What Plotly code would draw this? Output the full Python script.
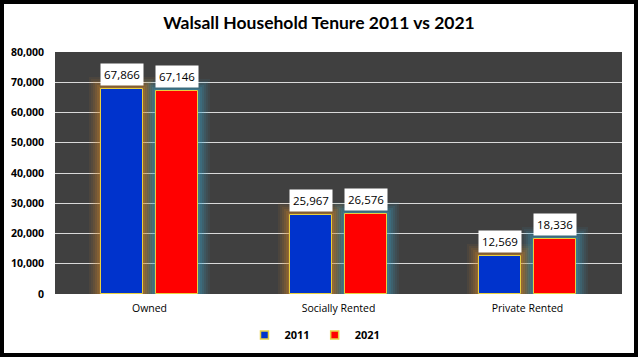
import plotly.graph_objects as go

categories = ["Owned", "Socially Rented", "Private Rented"]
values_2011 = [67866, 25967, 12569]
values_2021 = [67146, 26576, 18336]
series_names = ["2011", "2021"]
y_ticks = [0, 10000, 20000, 30000, 40000, 50000, 60000, 70000, 80000]

BLUE = "#0033cc"
RED = "#ff0000"
BAR_W = 0.222
OFF_B = -0.254
OFF_R = 0.032

fig = go.Figure()

# soft glow layers behind the bars
px_unit = 1 / 189.0
py_unit = 80000 / 242.0
for k, a in [(12, 0.07), (10, 0.08), (8, 0.1), (6, 0.12), (4, 0.15), (2, 0.2)]:
    fig.add_trace(go.Bar(
        x=categories, y=[v + k * py_unit for v in values_2011],
        width=BAR_W + 2 * k * px_unit, offset=OFF_B - k * px_unit,
        marker=dict(color=f"rgba(220,140,40,{a})", line=dict(width=0)),
        showlegend=False, hoverinfo="skip"))
    fig.add_trace(go.Bar(
        x=categories, y=[v + k * py_unit for v in values_2021],
        width=BAR_W + 2 * k * px_unit, offset=OFF_R - k * px_unit,
        marker=dict(color=f"rgba(60,170,210,{a})", line=dict(width=0)),
        showlegend=False, hoverinfo="skip"))

fig.add_trace(go.Bar(
    x=categories, y=values_2011, name=series_names[0], showlegend=False,
    width=BAR_W, offset=OFF_B,
    marker=dict(color=BLUE, line=dict(color="#e8d040", width=1))))
fig.add_trace(go.Bar(
    x=categories, y=values_2021, name=series_names[1], showlegend=False,
    width=BAR_W, offset=OFF_R,
    marker=dict(color=RED, line=dict(color="#e8d040", width=1))))

# legend entries
for name, col in [(series_names[0], BLUE), (series_names[1], RED)]:
    fig.add_trace(go.Scatter(
        x=[None], y=[None], mode="markers", name=name,
        marker=dict(symbol="square", size=8, color=col,
                    line=dict(color="#e8d040", width=1.5))))

annotations = []
for i, c in enumerate(categories):
    for vals, off in [(values_2011, OFF_B), (values_2021, OFF_R)]:
        annotations.append(dict(
            x=i + off + BAR_W / 2, y=vals[i], xref="x", yref="y",
            text=f"{vals[i]:,}", showarrow=False, yanchor="bottom",
            yshift=3, bgcolor="white", borderpad=3,
            font=dict(family="Open Sans, Arial", size=11.5, color="black")))

fig.update_layout(
    width=638, height=357,
    margin=dict(l=55, r=16, t=52, b=63, autoexpand=False),
    paper_bgcolor="white", plot_bgcolor="#404040",
    barmode="overlay", bargap=0,
    title=dict(text="<b>Walsall Household Tenure 2011 vs 2021</b>",
               x=0.5, xanchor="center", y=0.935, yanchor="middle",
               font=dict(family="Lato, Open Sans, Arial", size=17.5, color="black")),
    xaxis=dict(type="category", range=[-0.5, 2.5], showgrid=False,
               ticks="", ticklabelstandoff=6, automargin=False,
               tickfont=dict(family="Open Sans, Arial", size=10.5, color="black")),
    yaxis=dict(range=[0, 80000], tickvals=y_ticks,
               ticktext=[f"{t:,}" for t in y_ticks],
               gridcolor="#d9d9d9", gridwidth=1, zeroline=False,
               ticklabelstandoff=10, automargin=False,
               tickfont=dict(family="Open Sans, Arial", size=10.5, color="black", weight="bold")),
    legend=dict(orientation="h", xref="container", x=315 / 638, xanchor="center",
                yref="container", y=1 - 335 / 357, yanchor="middle",
                bgcolor="rgba(0,0,0,0)",
                font=dict(family="Open Sans, Arial", size=11, color="black", weight="bold"),
                itemwidth=30, traceorder="normal"),
    annotations=annotations,
)
fig.add_shape(type="rect", xref="paper", yref="paper",
              x0=-53 / 567, x1=1 + 14 / 567, y0=-61 / 242, y1=1 + 50 / 242,
              line=dict(color="black", width=4), layer="above")

fig.write_html("out.html", config={"displayModeBar": False},
               post_script="document.body.style.margin='0px';")
